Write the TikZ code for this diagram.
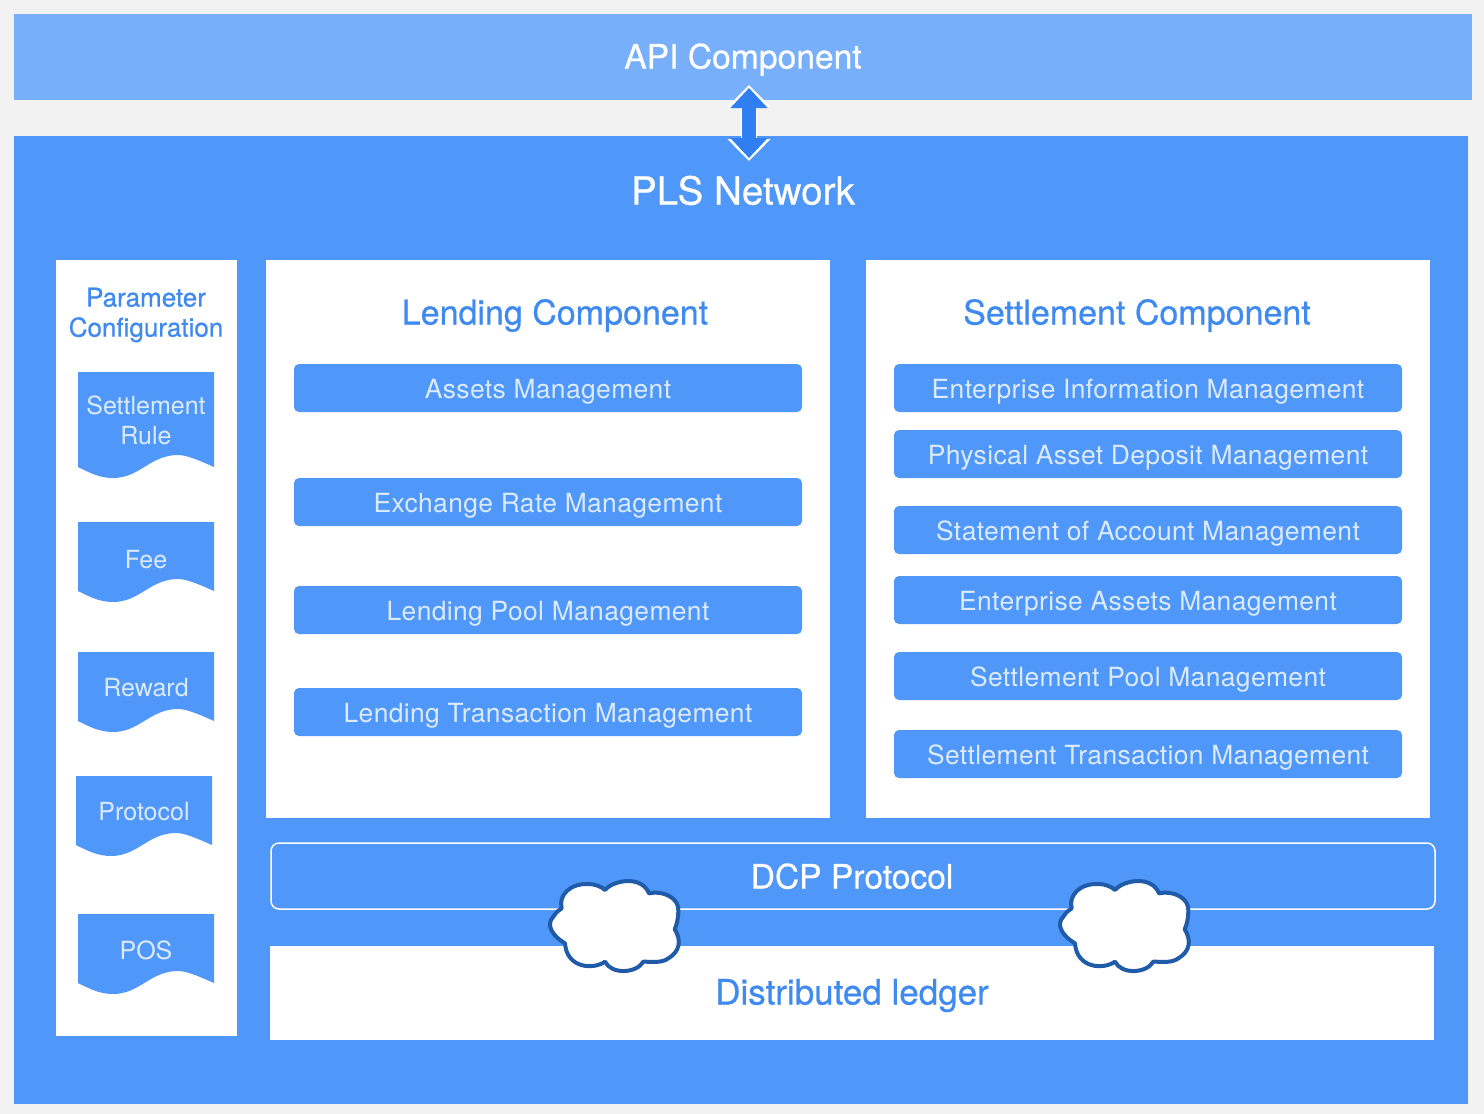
\documentclass[tikz,border=0pt]{standalone}
\usepackage{fontspec}
\setmainfont{TeX Gyre Heros}
\newfontfamily\medfont[FakeBold=0.6]{TeX Gyre Heros}
\newfontfamily\barfont[LetterSpace=1.5]{TeX Gyre Heros}
\usetikzlibrary{arrows.meta}
\definecolor{bgc}{HTML}{F2F2F2}
\definecolor{apic}{HTML}{78AFFB}
\definecolor{mainc}{HTML}{4F97F8}
\definecolor{softc}{HTML}{DCEAFE}
\definecolor{titlec}{HTML}{3F8AF0}
\definecolor{arrowc}{HTML}{2F7FF2}
\definecolor{cloudc}{HTML}{1F5BA8}
\tikzset{
  px/.style={inner sep=0pt,outer sep=0pt,text depth=0pt},
  barbox/.style={px,text height=20pt,fill=mainc,rounded corners=5pt,minimum width=508pt,minimum height=48pt,text=softc,font=\barfont\fontsize{26.4}{30}\selectfont},
  paneltitle/.style={px,text height=23pt,text=titlec,font=\medfont\fontsize{34}{38}\selectfont},
  whitetitle/.style={px,text height=23pt,text=white,font=\medfont\fontsize{33.6}{38}\selectfont},
  panel/.style={fill=white,draw=none},
  smalltxt/.style={inner sep=0pt,text=softc,align=center,font=\fontsize{25}{30}\selectfont},
  cloudline/.style={draw=cloudc,fill=white,line width=4pt,line join=round},
  pics/cloudshape/.style={code={
    \path[cloudline,x=0.3333pt,y=-0.3333pt]
      (225,90) .. controls (250,60) and (335,45) .. (357,100)
      .. controls (400,90) and (450,115) .. (445,155)
      .. controls (445,175) and (440,195) .. (434,208)
      .. controls (455,240) and (450,275) .. (415,295)
      .. controls (395,310) and (365,305) .. (340,305)
      .. controls (320,340) and (245,345) .. (225,305)
      .. controls (190,330) and (110,325) .. (105,250)
      .. controls (70,230) and (45,195) .. (70,170)
      .. controls (78,158) and (85,150) .. (95,145)
      .. controls (85,105) and (120,70) .. (175,72)
      .. controls (195,72) and (215,80) .. (225,90) -- cycle;
  }}
}
\newcommand{\wavebox}[5]{%
  \path[fill=mainc] (#1,#2) -- (#1+136,#2) -- (#1+136,#3)
    .. controls (#1+118,#3-8) and (#1+108,#3-12) .. (#1+100,#3-12)
    .. controls (#1+72,#3-12) and (#1+62,#3+11) .. (#1+35,#3+11)
    .. controls (#1+22,#3+11) and (#1+12,#3+6) .. (#1,#3) -- cycle;
  \coordinate (#4) at (#1+68,#2+#5);
}
\begin{document}
\begin{tikzpicture}[x=1pt,y=-1pt]
\useasboundingbox (0,0) rectangle (1484,1114);
\fill[bgc] (0,0) rectangle (1484,1114);
\fill[apic] (14,14) rectangle (1472,100);
\fill[mainc] (14,136) rectangle (1468,1104);
\node[whitetitle] (api) at (743,57) {API Component};
\node[whitetitle,text height=27pt,font=\medfont\fontsize{38.6}{42}\selectfont] (pls) at (743,191) {PLS Network};
\coordinate (arrowtop) at (749,87);
\coordinate (arrowbot) at (749,159);
\draw[white,line width=16pt,{Triangle[length=22pt,width=42pt]}-{Triangle[length=22pt,width=42pt]}] ([yshift=2pt]arrowtop) -- ([yshift=-2pt]arrowbot);
\draw[arrowc,line width=14pt,{Triangle[length=20pt,width=36pt]}-{Triangle[length=20pt,width=36pt]}] ([yshift=-1pt]arrowtop) -- ([yshift=1pt]arrowbot);
% panels
\fill[panel] (56,260) rectangle (237,1036);
\fill[panel] (266,260) rectangle (830,818);
\fill[panel] (866,260) rectangle (1430,818);
\node[inner sep=0pt,align=center,text=titlec,font=\medfont\fontsize{26}{30}\selectfont] (param) at (146,315) {Parameter\\Configuration};
\node[paneltitle] (lend) at (555,313) {Lending Component};
\node[paneltitle] (settle) at (1137,313) {Settlement Component};
% wave boxes
\wavebox{78}{372}{467}{w1}{48}
\node[smalltxt] (t1) at (w1) {Settlement\\Rule};
\wavebox{78}{522}{591}{w2}{38}
\node[smalltxt] (t2) at (w2) {Fee};
\wavebox{78}{652}{721}{w3}{36}
\node[smalltxt] (t3) at (w3) {Reward};
\wavebox{76}{776}{845}{w4}{36}
\node[smalltxt] (t4) at (w4) {Protocol};
\wavebox{78}{914}{983}{w5}{36}
\node[smalltxt] (t5) at (w5) {POS};
% bars
\node[barbox] (l1) at (548,388) {Assets Management};
\node[barbox] (l2) at (548,502) {Exchange Rate Management};
\node[barbox] (l3) at (548,610) {Lending Pool Management};
\node[barbox] (l4) at (548,712) {Lending Transaction Management};
\node[barbox] (s1) at (1148,388) {Enterprise Information Management};
\node[barbox] (s2) at (1148,454) {Physical Asset Deposit Management};
\node[barbox] (s3) at (1148,530) {Statement of Account Management};
\node[barbox] (s4) at (1148,600) {Enterprise Assets Management};
\node[barbox] (s5) at (1148,676) {Settlement Pool Management};
\node[barbox] (s6) at (1148,754) {Settlement Transaction Management};
% bottom
\draw[white,line width=1.5pt,rounded corners=8pt] (271,843) rectangle (1435,909);
\node[whitetitle] (dcp) at (852,877) {DCP Protocol};
\fill[panel] (270,946) rectangle (1434,1040);
\node[paneltitle,font=\medfont\fontsize{35}{38}\selectfont] (ledger) at (852,993) {Distributed ledger};
\pic at (530,860) {cloudshape};
\pic at (1040,860) {cloudshape};
\end{tikzpicture}
\end{document}
